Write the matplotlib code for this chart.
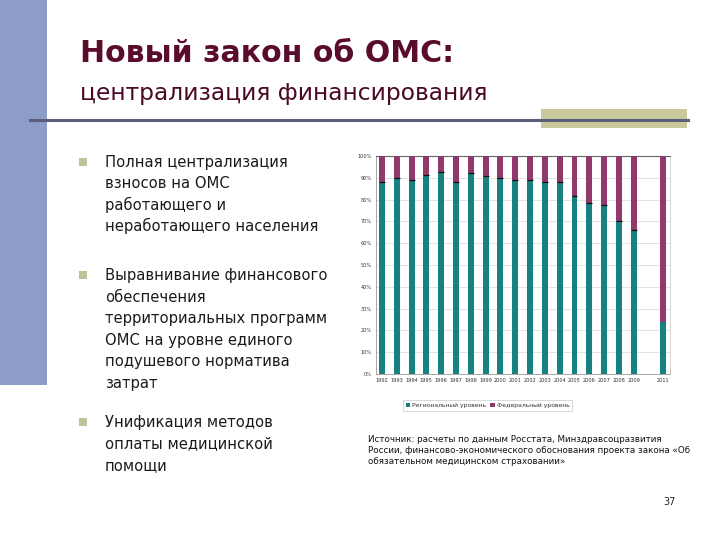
import matplotlib
matplotlib.use("Agg")
import matplotlib.pyplot as plt
from matplotlib.patches import Rectangle

# ---- data ----
years = [1992, 1993, 1994, 1995, 1996, 1997, 1998, 1999, 2000, 2001,
         2002, 2003, 2004, 2005, 2006, 2007, 2008, 2009, 2011]
regional = [88.2, 89.7, 89.2, 91.5, 92.5, 88.3, 92.0, 90.9, 90.0, 89.2,
            89.2, 88.3, 88.3, 81.5, 78.6, 77.7, 70.0, 66.2, 23.8]
federal = [100 - r for r in regional]
ytick_vals = [0, 10, 20, 30, 40, 50, 60, 70, 80, 90, 100]
ytick_labels = [f"{v}%" for v in ytick_vals]
series_names = ["Региональный уровень", "Федеральный уровень"]

title = "Новый закон об ОМС:"
subtitle = "централизация финансирования"
bullets = [
    ["Полная централизация", "взносов на ОМС", "работающего и",
     "неработающего населения"],
    ["Выравнивание финансового", "обеспечения",
     "территориальных программ", "ОМС на уровне единого",
     "подушевого норматива", "затрат"],
    ["Унификация методов", "оплаты медицинской", "помощи"],
]
source_lines = [
    "Источник: расчеты по данным Росстата, Минздравсоцразвития",
    "России, финансово-экономического обоснования проекта закона «Об",
    "обязательном медицинском страховании»",
]
page_number = "37"

W, H = 720, 540
fig = plt.figure(figsize=(7.2, 5.4), dpi=100)
fig.patch.set_facecolor("white")

def fx(x):
    return x / W

def fy(y):
    return 1 - y / H

# decorative slide elements
fig.patches.append(Rectangle((0, fy(385)), fx(47), 385 / H, transform=fig.transFigure,
                             facecolor="#8d9dc8", edgecolor="none", zorder=0))
fig.patches.append(Rectangle((fx(541), fy(128)), fx(146), 19 / H, transform=fig.transFigure,
                             facecolor="#c9c99b", edgecolor="none", zorder=1))
fig.lines.append(plt.Line2D([fx(30), fx(688)], [fy(120), fy(120)], transform=fig.transFigure,
                            color="#5a5e7a", linewidth=2.2, zorder=2))

# titles
fig.text(fx(80), fy(62), title, fontsize=21.6, fontweight="bold", color="#5a0c2c",
         family="DejaVu Sans", va="baseline", ha="left")
fig.text(fx(80), fy(100), subtitle, fontsize=16.8, color="#4a0a26",
         family="DejaVu Sans", va="baseline", ha="left")

# bullets
starts = [166.7, 280.0, 427.0]
lh = 21.6
for start, lines in zip(starts, bullets):
    fig.patches.append(Rectangle((fx(79), fy(start - 1)), fx(8), 8 / H,
                                 transform=fig.transFigure, facecolor="#bfc39a",
                                 edgecolor="none"))
    for i, line in enumerate(lines):
        fig.text(fx(105), fy(start + i * lh), line, fontsize=10.6, color="#1a1a1a",
                 family="DejaVu Sans", va="baseline", ha="left")

# source and page number
for i, line in enumerate(source_lines):
    fig.text(fx(368), fy(441.5 + i * 11.5), line, fontsize=6.3, color="#111111",
             family="DejaVu Sans", va="baseline", ha="left")
fig.text(fx(676), fy(505), page_number, fontsize=7, color="#222222",
         family="DejaVu Sans", va="baseline", ha="right")

# chart
ax = fig.add_axes([fx(376), fy(374), fx(670 - 376), (374 - 156) / H])
bw = 0.4
teal = "#18807f"
maroon = "#8f3a6b"
ax.bar(years, regional, width=bw, color=teal, label=series_names[0], zorder=3)
ax.bar(years, federal, width=bw, bottom=regional, color=maroon,
       label=series_names[1], zorder=3)
ax.hlines(regional[:-1], [y - bw / 2 for y in years[:-1]],
          [y + bw / 2 for y in years[:-1]], color="#111111", linewidth=0.9, zorder=4)

ax.set_xlim(1991.6, 2011.45)
ax.set_ylim(0, 100)
ax.set_yticks(ytick_vals)
ax.set_yticklabels(ytick_labels)
ax.set_xticks(years)
ax.set_xticklabels([str(y) for y in years])
ax.tick_params(axis="both", labelsize=3.6, length=0, colors="#333333", pad=3)
ax.grid(axis="y", color="#dddddd", linewidth=0.6, zorder=0)
for s in ["left", "bottom"]:
    ax.spines[s].set_color("#999999")
    ax.spines[s].set_linewidth(0.6)
ax.spines["top"].set_color("#666666")
ax.spines["top"].set_linewidth(0.8)
ax.spines["right"].set_color("#cccccc")
ax.spines["right"].set_linewidth(0.6)

leg = ax.legend(loc="upper center", bbox_to_anchor=(fx(487.5 - 376) / fx(294), -0.105),
                ncol=2, fontsize=4.4, frameon=True, fancybox=False, handlelength=0.8,
                handleheight=0.8, handletextpad=0.3, columnspacing=0.6,
                borderpad=0.45, labelcolor="#333333")
leg.get_frame().set_edgecolor("#bbbbbb")
leg.get_frame().set_linewidth(0.5)

fig.savefig("out.png", dpi=100)
